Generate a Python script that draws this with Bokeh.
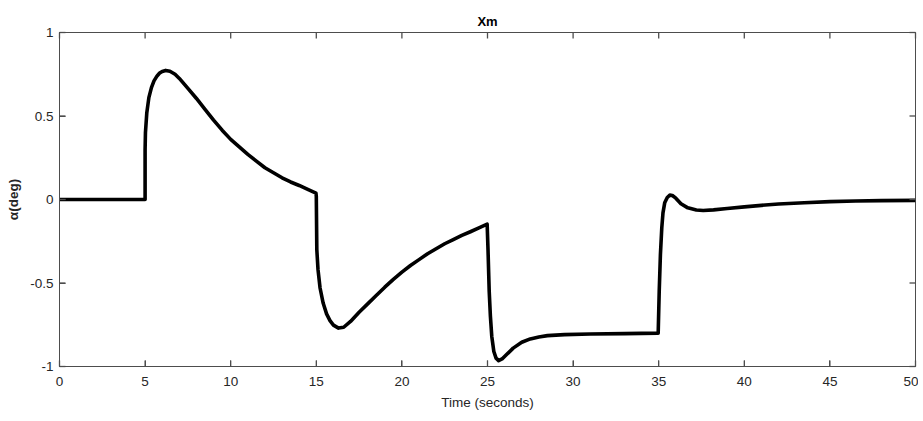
import math
from bokeh.plotting import figure
from bokeh.models import Range1d, FixedTicker
from bokeh.embed import file_html
from bokeh.resources import INLINE

# Time (s) and alpha (deg)
t = [0, 5.0, 5.0, 5.02, 5.1, 5.22, 5.37, 5.52, 5.7, 5.85, 6.0, 6.2, 6.45, 6.75, 7.0, 7.5, 8.0,
     8.5, 9.0, 9.5, 10.0, 10.5, 11.0, 11.5, 12.0, 12.5, 13.0, 13.5, 14.0, 14.5, 14.98,
     15.0, 15.03, 15.1, 15.22, 15.4, 15.6, 15.8, 16.0, 16.3, 16.6, 17.0, 17.5, 18.0, 18.5,
     19.0, 19.5, 20.0, 20.5, 21.0, 21.5, 22.0, 22.5, 23.0, 23.5, 24.0, 24.5, 24.98,
     25.03, 25.1, 25.17, 25.25, 25.37, 25.5, 25.65, 25.85, 26.1, 26.5, 27.0, 27.5, 28.0,
     28.5, 29.5, 31.0, 33.0, 34.97, 35.03, 35.1, 35.18, 35.25, 35.35, 35.5, 35.65, 35.8,
     36.0, 36.3, 36.7, 37.2, 37.6, 38.2, 39.0, 40.0, 41.0, 42.0, 43.5, 45.0, 46.5, 48.0, 50.0]
alpha = [0, 0, 0.3, 0.4, 0.52, 0.61, 0.67, 0.71, 0.74, 0.757, 0.767, 0.773, 0.768, 0.75, 0.725,
         0.665, 0.605, 0.54, 0.475, 0.415, 0.36, 0.315, 0.27, 0.23, 0.19, 0.16, 0.13, 0.105,
         0.084, 0.06, 0.038,
         0.02, -0.3, -0.42, -0.53, -0.62, -0.685, -0.725, -0.752, -0.77, -0.765, -0.73, -0.675,
         -0.625, -0.575, -0.525, -0.478, -0.435, -0.395, -0.36, -0.325, -0.295, -0.265, -0.24,
         -0.215, -0.193, -0.17, -0.148,
         -0.3, -0.55, -0.7, -0.82, -0.91, -0.95, -0.965, -0.955, -0.93, -0.89, -0.855, -0.835,
         -0.823, -0.815, -0.809, -0.805, -0.803, -0.80, -0.55, -0.33, -0.17, -0.08, -0.02,
         0.012, 0.026, 0.024, 0.008, -0.025, -0.05, -0.063, -0.066, -0.062, -0.054, -0.044,
         -0.035, -0.027, -0.019, -0.013, -0.009, -0.007, -0.005]

x_ticks = [0, 5, 10, 15, 20, 25, 30, 35, 40, 45, 50]
y_ticks = [-1, -0.5, 0, 0.5, 1]
x_min, x_max = 0, 50
y_min, y_max = -1, 1

FONT = "Liberation Sans"
AX = "#4d4d4d"
TXT = "#262626"
FW, FH = 856, 334
TICK_PX = 6

p = figure(frame_width=FW, frame_height=FH, output_backend="svg", toolbar_location=None,
           x_range=Range1d(x_min, x_max), y_range=Range1d(y_min, y_max),
           min_border_left=59, min_border_right=3, min_border_top=32, min_border_bottom=50)
p.background_fill_color = "white"
p.border_fill_color = "white"
p.outline_line_color = AX
p.xgrid.visible = False
p.ygrid.visible = False

p.title.text = "Xm"
p.title.align = "center"
p.title.text_font = FONT
p.title.text_font_size = "13px"
p.title.text_font_style = "bold"
p.title.text_color = "#000000"
p.title.standoff = 7

for ax, ticks in ((p.xaxis[0], x_ticks), (p.yaxis[0], y_ticks)):
    ax.ticker = FixedTicker(ticks=ticks)
    ax.axis_line_color = AX
    ax.major_tick_line_color = AX
    ax.major_tick_line_width = 1
    ax.major_tick_in = TICK_PX
    ax.major_tick_out = 0
    ax.minor_tick_line_color = None
    ax.major_label_text_font = FONT
    ax.major_label_text_font_size = "13.5px"
    ax.major_label_text_color = TXT
    ax.axis_label_text_font = FONT
    ax.axis_label_text_color = TXT
    ax.axis_label_text_font_size = "13.5px"

p.xaxis[0].major_label_standoff = 10
p.yaxis[0].major_label_standoff = 6
p.xaxis[0].major_label_overrides = {v: str(v) for v in x_ticks}
p.yaxis[0].major_label_overrides = {-1: "-1", -0.5: "-0.5", 0: "0", 0.5: "0.5", 1: "1"}
p.xaxis[0].axis_label = "Time (seconds)"
p.xaxis[0].axis_label_text_font_style = "normal"
p.xaxis[0].axis_label_standoff = 6
p.yaxis[0].axis_label = "α(deg)"
p.yaxis[0].axis_label_text_font_style = "bold"
p.yaxis[0].axis_label_standoff = 6

# inward tick marks on all four edges of the box, drawn as short dash markers
# centred half a tick inside each edge (offset converted from pixels)
dy = (TICK_PX / 2) * (y_max - y_min) / FH
dx = (TICK_PX / 2) * (x_max - x_min) / FW
n_x, n_y = len(x_ticks), len(y_ticks)
mk = dict(marker="dash", size=TICK_PX, line_color=AX, line_width=1.3, level="overlay")
p.scatter(x=x_ticks, y=[y_max - dy] * n_x, angle=math.pi / 2, **mk)
p.scatter(x=x_ticks, y=[y_min + dy] * n_x, angle=math.pi / 2, **mk)
p.scatter(x=[x_max - dx] * n_y, y=y_ticks, angle=0, **mk)
p.scatter(x=[x_min + dx] * n_y, y=y_ticks, angle=0, **mk)

p.line(t, alpha, line_color="black", line_width=3.6, line_join="round")

open("out.html", "w").write(file_html(p, INLINE))
